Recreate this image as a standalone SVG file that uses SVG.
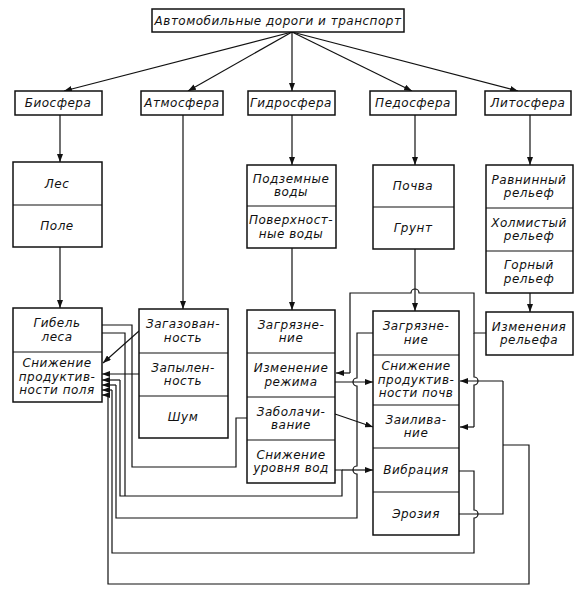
<svg xmlns="http://www.w3.org/2000/svg" width="583" height="596" viewBox="0 0 583 596">
<style>
.b{fill:#fff;stroke:#111;stroke-width:1.5}
.d{fill:none;stroke:#111;stroke-width:1.2}
.c{fill:none;stroke:#111;stroke-width:1.2}
.ar{marker-end:url(#a)}
text{font-family:"DejaVu Sans","Liberation Sans",sans-serif;font-style:italic;font-size:12px;fill:#111;text-anchor:middle;letter-spacing:0.5px}
</style>
<defs>
<marker id="a" viewBox="0 0 8 6" refX="8" refY="3" markerWidth="8" markerHeight="6" markerUnits="userSpaceOnUse" orient="auto"><path d="M0,0 L8,3 L0,6 z" fill="#111"/></marker>
</defs>
<rect width="583" height="596" fill="#fff"/>

<g id="connectors">
<path class="c ar" d="M292,32 L64,91"/>
<path class="c ar" d="M292,32 L188,91"/>
<path class="c ar" d="M292,32 L292,91"/>
<path class="c ar" d="M292,32 L412,91"/>
<path class="c ar" d="M292,32 L518,91"/>
<path class="c ar" d="M60,115 V162"/>
<path class="c ar" d="M183,115 V309"/>
<path class="c ar" d="M292,115 V165"/>
<path class="c ar" d="M415,115 V165"/>
<path class="c ar" d="M530,115 V165"/>
<path class="c ar" d="M60,247 V308"/>
<path class="c ar" d="M292,248 V310"/>
<path class="c ar" d="M415,249 V311"/>
<path class="c ar" d="M530,293 V312"/>
<!-- Загазованность / Запыленность -> Снижение продуктивности поля -->
<path class="c ar" d="M139,331 L103,363"/>
<path class="c ar" d="M139,374 H102"/>
<!-- Заболачивание -> Гибель леса -->
<path class="c" d="M247,418 H236 V467 H132 V325 H102"/>
<!-- Снижение уровня вод -> Гибель леса, Снижение продуктивности поля, Вибрация -->
<path class="c" d="M335,470 H342 V496 H120 V380"/>
<path class="c ar" d="M120,380 H102"/>
<path class="c" d="M125,496 V333 H102"/>
<path class="c ar" d="M342,470 H373"/>
<!-- Загрязнение почв -> Снижение продуктивности поля -->
<path class="c" d="M373,333 H357 V378 a4,4 0 0 0 0,8 V466 a4,4 0 0 0 0,8 V518 H116 V385"/>
<path class="c ar" d="M116,385 H102"/>
<!-- Вибрация -> Снижение продуктивности поля -->
<path class="c" d="M459,471 H474 V510 a4,4 0 0 1 0,8 V553 H112 V390"/>
<path class="c ar" d="M112,390 H102"/>
<!-- Эрозия -> Снижение продуктивности почв, поля -->
<path class="c" d="M459,514 H503 V381"/>
<path class="c ar" d="M503,381 H460"/>
<path class="c" d="M503,445 H529 V584 H108 V395"/>
<path class="c ar" d="M108,395 H102"/>
<!-- Изменение режима -> Снижение продуктивности почв -->
<path class="c ar" d="M335,382 H373"/>
<!-- Заболачивание -> Заиливание -->
<path class="c ar" d="M335,414 L373,427"/>
<!-- Изменения рельефа -> Изменение режима, Заиливание -->
<path class="c" d="M486,333 H474 V293 H419 a4,4 0 0 0 -8,0 H350 V373"/>
<path class="c ar" d="M350,373 H336"/>
<path class="c" d="M474,333 V377 a4,4 0 0 1 0,8 V427"/>
<path class="c ar" d="M474,427 H460"/>
</g>

<g id="n-title">
<rect class="b" x="152" y="9" width="252" height="23"/>
<text x="278" y="25">Автомобильные дороги и транспорт</text>
</g>
<g id="n-bio"><rect class="b" x="15" y="91" width="87" height="24"/><text x="58" y="107">Биосфера</text></g>
<g id="n-atm"><rect class="b" x="141" y="91" width="82" height="24"/><text x="182" y="107">Атмосфера</text></g>
<g id="n-hyd"><rect class="b" x="248" y="91" width="87" height="24"/><text x="291" y="107">Гидросфера</text></g>
<g id="n-ped"><rect class="b" x="370" y="91" width="86" height="24"/><text x="413" y="107">Педосфера</text></g>
<g id="n-lit"><rect class="b" x="485" y="91" width="86" height="24"/><text x="528" y="107">Литосфера</text></g>

<g id="n-les-pole">
<rect class="b" x="13" y="162" width="89" height="85"/>
<path class="d" d="M13,205 H102"/>
<text x="57" y="188">Лес</text>
<text x="57" y="230">Поле</text>
</g>
<g id="n-vody">
<rect class="b" x="247" y="165" width="89" height="83"/>
<path class="d" d="M247,206 H336"/>
<text x="291" y="183">Подземные</text><text x="291" y="196">воды</text>
<text x="291" y="224">Поверхност-</text><text x="291" y="238">ные воды</text>
</g>
<g id="n-pochva">
<rect class="b" x="373" y="165" width="81" height="84"/>
<path class="d" d="M373,207 H454"/>
<text x="413" y="190">Почва</text>
<text x="413" y="232">Грунт</text>
</g>
<g id="n-relief">
<rect class="b" x="486" y="165" width="87" height="128"/>
<path class="d" d="M486,208 H573 M486,251 H573"/>
<text x="529" y="184">Равнинный</text><text x="529" y="197">рельеф</text>
<text x="529" y="227">Холмистый</text><text x="529" y="240">рельеф</text>
<text x="529" y="269">Горный</text><text x="529" y="283">рельеф</text>
</g>

<g id="n-bio-eff">
<rect class="b" x="13" y="308" width="89" height="94"/>
<path class="d" d="M13,352 H102"/>
<text x="57" y="327">Гибель</text><text x="57" y="341">леса</text>
<text x="57" y="367">Снижение</text><text x="57" y="381">продуктив-</text><text x="57" y="394">ности поля</text>
</g>
<g id="n-atm-eff">
<rect class="b" x="139" y="309" width="89" height="129"/>
<path class="d" d="M139,353 H228 M139,396 H228"/>
<text x="183" y="328">Загазован-</text><text x="183" y="342">ность</text>
<text x="183" y="372">Запылен-</text><text x="183" y="385">ность</text>
<text x="183" y="421">Шум</text>
</g>
<g id="n-hyd-eff">
<rect class="b" x="247" y="310" width="88" height="173"/>
<path class="d" d="M247,353 H335 M247,397 H335 M247,440 H335"/>
<text x="291" y="329">Загрязне-</text><text x="291" y="342">ние</text>
<text x="291" y="372">Изменение</text><text x="291" y="386">режима</text>
<text x="291" y="416">Заболачи-</text><text x="291" y="429">вание</text>
<text x="291" y="459">Снижение</text><text x="291" y="472">уровня вод</text>
</g>
<g id="n-soil-eff">
<rect class="b" x="373" y="311" width="86" height="224"/>
<path class="d" d="M373,355 H459 M373,405 H459 M373,448 H459 M373,492 H459"/>
<text x="416" y="330">Загрязне-</text><text x="416" y="344">ние</text>
<text x="416" y="370">Снижение</text><text x="416" y="384">продуктив-</text><text x="416" y="397">ности почв</text>
<text x="416" y="424">Заилива-</text><text x="416" y="437">ние</text>
<text x="416" y="474">Вибрация</text>
<text x="416" y="518">Эрозия</text>
</g>
<g id="n-relief-eff">
<rect class="b" x="486" y="312" width="87" height="43"/>
<text x="529" y="331">Изменения</text><text x="529" y="344">рельефа</text>
</g>
</svg>
